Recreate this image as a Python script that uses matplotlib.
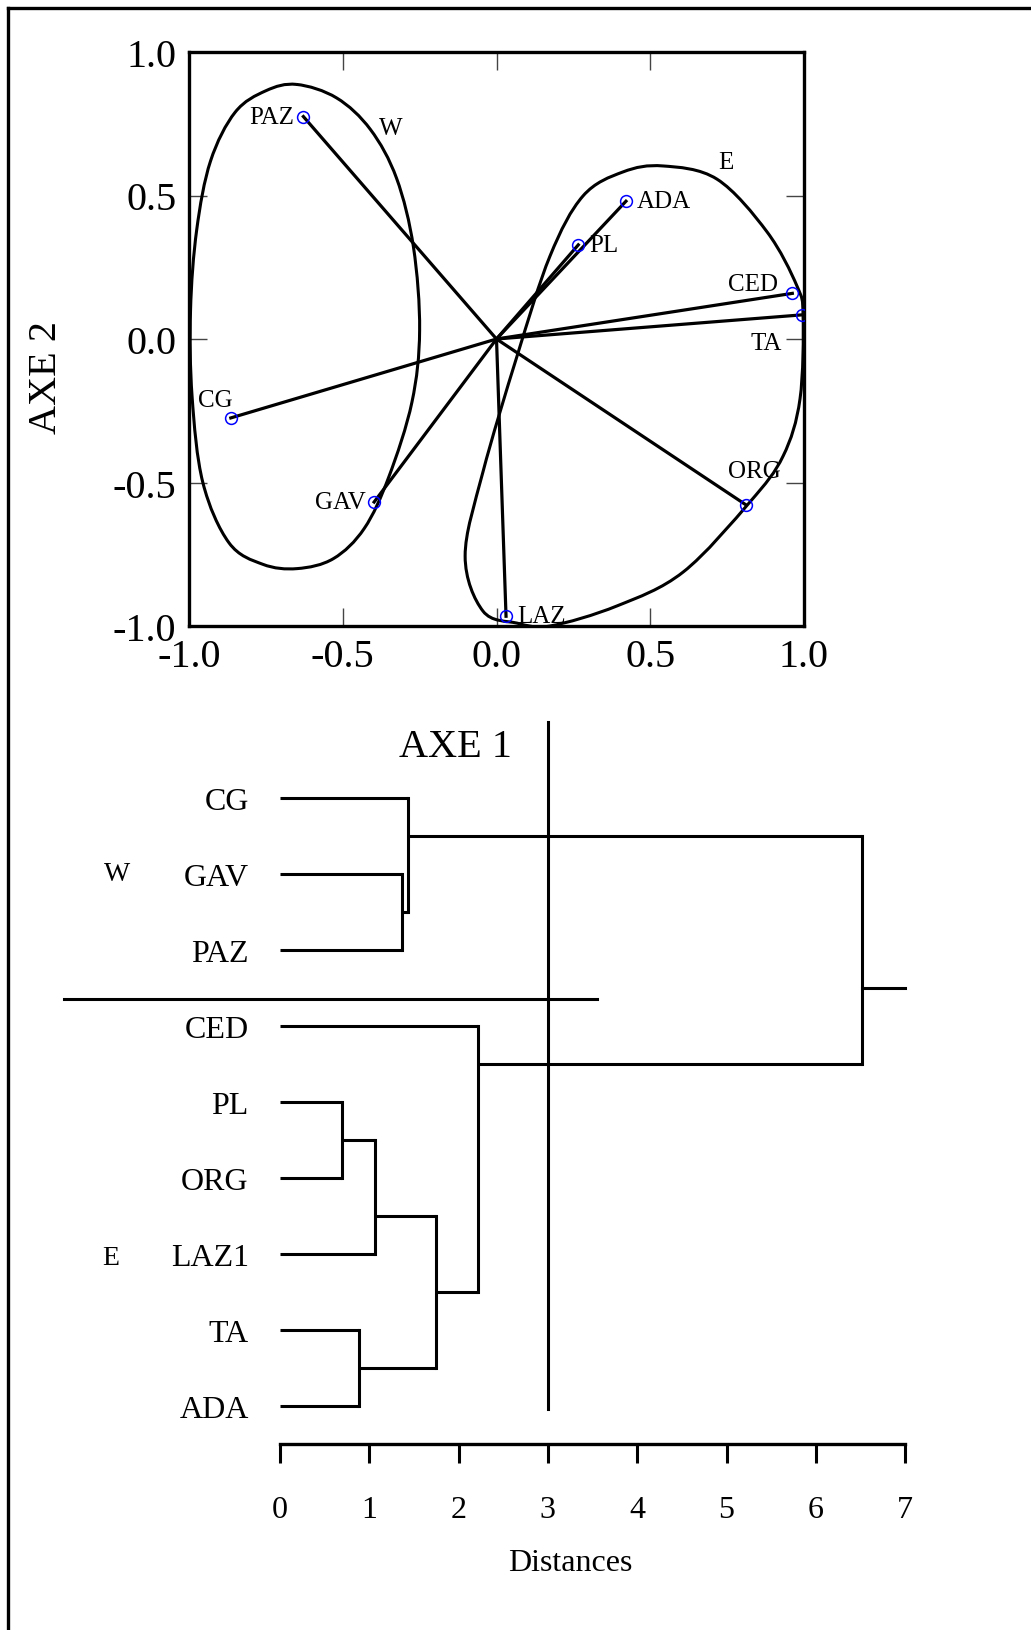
import numpy as np
import matplotlib
matplotlib.use("Agg")
import matplotlib.pyplot as plt
from matplotlib.path import Path
from matplotlib.patches import PathPatch
from matplotlib.lines import Line2D

plt.rcParams['font.family'] = ['Liberation Serif', 'DejaVu Serif']

# ordination scores of the sites (AXE 1, AXE 2)
sites = ['PAZ', 'ADA', 'PL', 'CED', 'TA', 'CG', 'GAV', 'ORG', 'LAZ']
axe1 = [-0.628, 0.421, 0.266, 0.962, 0.992, -0.864, -0.398, 0.810, 0.031]
axe2 = [0.775, 0.480, 0.328, 0.159, 0.084, -0.275, -0.568, -0.577, -0.966]

# hand drawn outlines of the two groups (points along the curve)
w_x = [-0.650, -0.750, -0.850, -0.930, -0.975, -0.995, -0.990, -0.955, -0.870, -0.760,
       -0.648, -0.530, -0.430, -0.350, -0.275, -0.250, -0.270, -0.325, -0.410, -0.520]
w_y = [0.887, 0.865, 0.790, 0.620, 0.380, 0.100, -0.200, -0.500, -0.710, -0.785,
       -0.800, -0.765, -0.660, -0.480, -0.220, 0.030, 0.320, 0.560, 0.730, 0.840]
e_x = [0.541, 0.717, 0.880, 0.977, 0.997, 0.987, 0.932, 0.824, 0.607, 0.392,
       0.174, 0.067, -0.044, -0.102, -0.044, 0.067, 0.174, 0.281, 0.411]
e_y = [0.603, 0.557, 0.373, 0.185, 0.080, -0.209, -0.408, -0.568, -0.812, -0.930,
       -1.000, -0.990, -0.948, -0.756, -0.463, -0.059, 0.289, 0.498, 0.582]

# dendrogram: leaves from top to bottom, then merges (child a, child b, distance, row of node)
leaves = ['CG', 'GAV', 'PAZ', 'CED', 'PL', 'ORG', 'LAZ1', 'TA', 'ADA']
merge_a = [1, 0, 4, 11, 7, 12, 3, 10]
merge_b = [2, 9, 5, 6, 8, 13, 14, 15]
merge_dist = [1.366, 1.433, 0.694, 1.064, 0.885, 1.747, 2.217, 6.517]
merge_row = [1.5, 0.5, 4.5, 5.5, 7.5, 6.5, 3.5, 2.5]
root_end = 7.0
cut_dist = 3.0
dist_ticks = [0, 1, 2, 3, 4, 5, 6, 7]
ord_ticks = [-1.0, -0.5, 0.0, 0.5, 1.0]


def closed_curve(xs, ys):
    # smooth closed curve through the points (Catmull-Rom as cubic Bezier)
    p = np.column_stack([xs, ys])
    n = len(p)
    verts = [p[0]]
    codes = [Path.MOVETO]
    for i in range(n):
        p0, p1, p2, p3 = p[i - 1], p[i], p[(i + 1) % n], p[(i + 2) % n]
        verts += [p1 + (p2 - p0) / 6, p2 - (p3 - p1) / 6, p2]
        codes += [Path.CURVE4] * 3
    return Path(verts, codes)


W, H = 1031, 1631
fig = plt.figure(figsize=(W / 100, H / 100), dpi=100)

# frame of the figure (top and left only)
fig.add_artist(Line2D([8 / W, 1], [1 - 9 / H, 1 - 9 / H], color='black', lw=2.4))
fig.add_artist(Line2D([8 / W, 8 / W], [0, 1 - 9 / H], color='black', lw=2.4))

# ---------------- ordination plot ----------------
ax = fig.add_axes([189 / W, 1 - 627 / H, 615 / W, 574 / H])
ax.set_xlim(-1, 1)
ax.set_ylim(-1, 1)

for x, y in zip(axe1, axe2):
    ax.plot([0, x], [0, y], color='black', lw=2.3, zorder=3)
ax.plot(axe1, axe2, 'o', ms=8.5, mfc='none', mec='blue', mew=1.1, zorder=4)

for xs, ys in [(w_x, w_y), (e_x, e_y)]:
    ax.add_patch(PathPatch(closed_curve(xs, ys), fill=False, ec='black', lw=2.2, zorder=2))

# label offsets in points, alignment
lab_pos = {
    'PAZ': (-7, 0, 'right'), 'ADA': (8, 0, 'left'), 'PL': (8, 0, 'left'),
    'CED': (-10, 7, 'right'), 'TA': (-14, -20, 'right'), 'CG': (-11, 13, 'center'),
    'GAV': (-6, 0, 'right'), 'ORG': (6, 24, 'center'), 'LAZ': (8, 0, 'left'),
}
for name, x, y in zip(sites, axe1, axe2):
    dx, dy, ha = lab_pos[name]
    ax.annotate(name, (x, y), xytext=(dx, dy), textcoords='offset points',
                ha=ha, va='center', fontsize=18)
ax.text(-0.343, 0.735, 'W', fontsize=18, ha='center', va='center')
ax.text(0.746, 0.617, 'E', fontsize=18, ha='center', va='center')

ax.set_xticks(ord_ticks)
ax.set_yticks(ord_ticks)
ax.set_xticklabels([f'{t:.1f}' for t in ord_ticks])
ax.set_yticklabels([f'{t:.1f}' for t in ord_ticks])
ax.tick_params(direction='in', length=13, width=1.0, color='#444444',
               top=True, right=True, labelsize=29)
ax.tick_params(axis='x', pad=9)
ax.tick_params(axis='y', pad=9)
for s in ax.spines.values():
    s.set_linewidth(2.4)
fig.text(47 / W, 1 - 378 / H, 'AXE 2', rotation=90, fontsize=29, ha='center', va='center')
fig.text(455 / W, 1 - 748 / H, 'AXE 1', fontsize=29, ha='center', va='center')

# ---------------- dendrogram ----------------
ad = fig.add_axes([20 / W, 1 - 1445 / H, 1000 / W, 745 / H])
ad.set_xlim(-260 / 89.3, 740 / 89.3)
ad.set_ylim(8.5, -99 / 76)
for k in ['top', 'right', 'left']:
    ad.spines[k].set_visible(False)
ad.spines['bottom'].set_bounds(0, 7)
ad.spines['bottom'].set_linewidth(2.4)
ad.set_yticks([])
ad.set_xticks(dist_ticks)
ad.set_xticklabels([str(t) for t in dist_ticks])
ad.tick_params(axis='x', direction='out', length=14, width=2.2, pad=23, labelsize=23)
ad.set_xlabel('Distances', fontsize=23)
ad.xaxis.set_label_coords(0.55, -0.14)

pos = [(0.0, i) for i in range(len(leaves))]
for a, b, h, r in zip(merge_a, merge_b, merge_dist, merge_row):
    xa, ya = pos[a]
    xb, yb = pos[b]
    ad.plot([xa, h], [ya, ya], color='black', lw=2.2, solid_capstyle='butt')
    ad.plot([xb, h], [yb, yb], color='black', lw=2.2, solid_capstyle='butt')
    ad.plot([h, h], [ya, yb], color='black', lw=2.2, solid_capstyle='projecting')
    pos.append((h, r))
xr, yr = pos[-1]
ad.plot([xr, root_end], [yr, yr], color='black', lw=2.2)

for i, name in enumerate(leaves):
    ad.text(-0.35, i + 0.04, name, fontsize=23, ha='right', va='center')
ad.text(-1.825, 1.0, 'W', fontsize=20, ha='center', va='center')
ad.text(-1.90, 6.05, 'E', fontsize=20, ha='center', va='center')

# cut line and group separator
ad.plot([cut_dist, cut_dist], [-1.0, 8.04], color='black', lw=2.2)
ad.plot([-2.42, 3.55], [2.645, 2.645], color='black', lw=2.2)

fig.savefig('out.png', dpi=100)
